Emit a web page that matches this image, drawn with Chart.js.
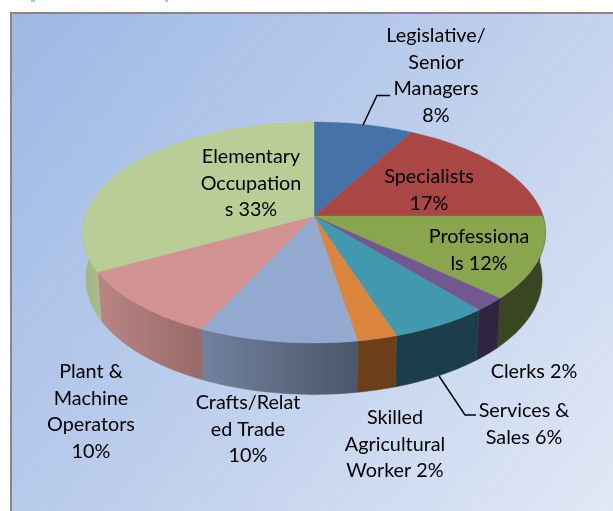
<!DOCTYPE html>
<html><head><meta charset="utf-8">
<style>html,body{margin:0;padding:0;background:#fff;overflow:hidden}canvas{display:block}</style>
<script src="https://cdn.jsdelivr.net/npm/chart.js@4"></script>
</head><body><canvas id="c" width="613" height="511"></canvas>
<script>
const categories=['Legislative/Senior Managers','Specialists','Professionals','Clerks','Services & Sales','Skilled Agricultural Worker','Crafts/Related Trade','Plant & Machine Operators','Elementary Occupations'];
const values=[8,17,12,2,6,2.4,9.6,10,33];
const labelLines=[['Legislative/','Senior','Managers','8%'],['Specialists','17%'],['Professiona','ls 12%'],['Clerks 2%'],['Services &','Sales 6%'],['Skilled','Agricultural','Worker 2%'],['Crafts/Relat','ed Trade','10%'],['Plant &','Machine','Operators','10%'],['Elementary','Occupation','s 33%']];
const topColors=['#4572A7','#AA4643','#89A54E','#71588F','#4198AF','#DB843D','#93A9CF','#D19392','#B9CD96'];
const wallLeft=['#4572A7','#AA4643','#3a4522','#2e2540','#1c3d4a','#6b4019','#72829f','#b98584','#a2b583'];
const wallRight=['#4572A7','#AA4643','#3a4522','#2e2540','#1c3d4a','#6b4019','#4b5669','#966a68','#aabc8a'];
const labelAnchors=[[436,36],[429,177],[479,237],[534,372],[524,411],[395,418],[248,403],[91,372],[251,157]];
const leaderLines=[[[390,95.5],[377,95.5],[363,125]],[[476,415],[465,415],[439,376]]];

const CX=314,CY=216,A=229,B=108,K=0.149,LINE=26.4;
function topPt(a){const u=Math.cos(a),v=Math.sin(a),w=1-K*v;return [CX+A*u/w,CY+B*v/w,v];}
function botPt(a){const p=topPt(a);return [CX+(p[0]-CX)*0.985,p[1]+45.5+6*p[2]];}

const pie3d={id:'pie3d',
 beforeDraw(ch){const c=ch.ctx;c.save();c.fillStyle='#fff';c.fillRect(0,0,613,511);
  c.fillStyle='#A9C8E8';c.fillRect(31,0,4,2);c.fillRect(165,0,3,2);
  const g=c.createLinearGradient(10,13,613,511);g.addColorStop(0,'#9DB8E4');g.addColorStop(0.5,'#BDCEEC');g.addColorStop(1,'#E1E8F6');
  c.fillStyle=g;c.fillRect(10,13,603,498);
  c.strokeStyle='#868686';c.lineWidth=2;c.beginPath();c.moveTo(11,511);c.lineTo(11,13);c.lineTo(613,13);c.stroke();c.restore();},
 beforeDatasetDraw(ch,args){const c=ch.ctx,arcs=args.meta.data;c.save();
  const lo=Math.PI*-0.03,hi=Math.PI*1.03;
  arcs.forEach((el,i)=>{
   const s=Math.max(el.startAngle,lo),e=Math.min(el.endAngle,hi);
   if(e<=s)return;
   const n=Math.ceil((e-s)*60),up=[],dn=[];
   for(let j=0;j<=n;j++){const a=s+(e-s)*j/n;up.push(topPt(a));dn.push(botPt(a));}
   const xs=up.concat(dn).map(p=>p[0]),x0=Math.min(...xs),x1=Math.max(...xs);
   const g=c.createLinearGradient(x0,0,x1,0);g.addColorStop(0,wallLeft[i]);g.addColorStop(1,wallRight[i]);
   c.fillStyle=g;c.strokeStyle=g;c.lineWidth=0.5;c.beginPath();
   up.forEach((p,k)=>k?c.lineTo(p[0],p[1]):c.moveTo(p[0],p[1]));
   dn.reverse().forEach(p=>c.lineTo(p[0],p[1]));c.closePath();c.fill();c.stroke();
  });
  arcs.forEach((el,i)=>{
   const n=Math.ceil((el.endAngle-el.startAngle)*60);
   c.fillStyle=topColors[i];c.strokeStyle=topColors[i];c.lineWidth=0.4;c.beginPath();c.moveTo(CX,CY);
   for(let j=0;j<=n;j++){const p=topPt(el.startAngle+(el.endAngle-el.startAngle)*j/n);c.lineTo(p[0],p[1]);}
   c.closePath();c.fill();c.stroke();
  });
  c.restore();return false;},
 afterDraw(ch){const c=ch.ctx;c.save();
  c.strokeStyle='#000';c.lineWidth=1.5;
  leaderLines.forEach(l=>{c.beginPath();l.forEach((p,k)=>k?c.lineTo(p[0],p[1]):c.moveTo(p[0],p[1]));c.stroke();});
  c.fillStyle='#000';c.font='19.8px Lato';c.textAlign='center';c.textBaseline='middle';
  labelLines.forEach((ls,i)=>ls.forEach((t,k)=>c.fillText(t,labelAnchors[i][0],labelAnchors[i][1]+k*LINE)));
  c.restore();}
};
new Chart(document.getElementById('c'),{type:'pie',
 data:{labels:categories,datasets:[{data:values,backgroundColor:topColors,borderWidth:0}]},
 options:{responsive:false,animation:false,plugins:{legend:{display:false},tooltip:{enabled:false}}},
 plugins:[pie3d]});
</script></body></html>
